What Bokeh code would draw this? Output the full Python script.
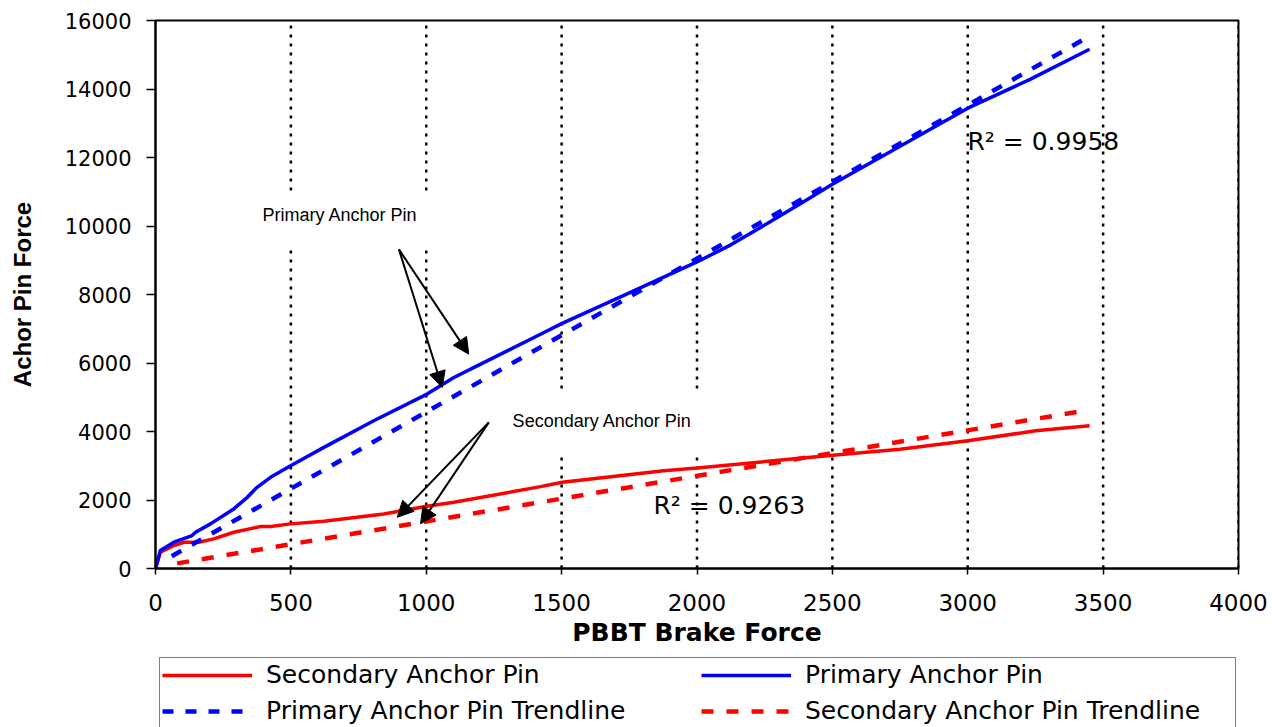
from bokeh.plotting import figure
from bokeh.layouts import column
from bokeh.models import (Range1d, FixedTicker, Legend, LegendItem, Label, Arrow,
                          NormalHead)
from bokeh.embed import file_html
from bokeh.resources import INLINE

# ---- data ----
primary_brake_force = [0, 18, 68, 135, 148, 203, 289, 339, 375, 425, 499, 622, 806, 1003,
                       1102, 1188, 1422, 1500, 1750, 2000, 2125, 2250, 2380, 2500, 2750,
                       3000, 3230, 3450]
primary_pin_force = [0, 525, 767, 962, 1058, 1303, 1740, 2078, 2370, 2661, 3002, 3536, 4314,
                     5092, 5577, 5917, 6841, 7150, 8050, 8950, 9450, 10030, 10640, 11220,
                     12330, 13440, 14280, 15160]

secondary_brake_force = [0, 18, 68, 105, 160, 215, 289, 388, 425, 499, 622, 843, 1003, 1102,
                         1422, 1502, 1877, 2000, 2481, 2750, 3000, 3250, 3450]
secondary_pin_force = [0, 475, 670, 767, 767, 866, 1058, 1224, 1224, 1303, 1379, 1594, 1816,
                       1933, 2390, 2516, 2857, 2935, 3294, 3480, 3730, 4020, 4170]

primary_trend_x = [60, 3440]
primary_trend_y = [360, 15500]
secondary_trend_x = [80, 3440]
secondary_trend_y = [150, 4620]

x_ticks = [0, 500, 1000, 1500, 2000, 2500, 3000, 3500, 4000]
y_ticks = [0, 2000, 4000, 6000, 8000, 10000, 12000, 14000, 16000]
grid_x = [500, 1000, 1500, 2000, 2500, 3000, 3500, 4000]

legend_labels = ["Secondary Anchor Pin", "Primary Anchor Pin",
                 "Primary Anchor Pin Trendline", "Secondary Anchor Pin Trendline"]
r2_primary = "R\u00b2 = 0.9958"
r2_secondary = "R\u00b2 = 0.9263"
note_primary = "Primary Anchor Pin"
note_secondary = "Secondary Anchor Pin"

RED = "#ff0000"
BLUE = "#0000ff"

# ---- main figure ----
p = figure(width=1272, height=655, output_backend="svg", toolbar_location=None,
           x_range=Range1d(0, 4000), y_range=Range1d(0, 16000),
           min_border_left=155, min_border_right=34, min_border_top=20,
           min_border_bottom=87)
p.background_fill_color = "white"
p.border_fill_color = "white"
p.outline_line_color = "black"
p.outline_line_width = 2
p.xgrid.visible = False
p.ygrid.visible = False

# x axis
p.xaxis.ticker = FixedTicker(ticks=x_ticks)
p.xaxis.axis_label = "PBBT Brake Force"
p.xaxis.axis_label_text_font = "DejaVu Sans"
p.xaxis.axis_label_text_font_style = "bold"
p.xaxis.axis_label_text_font_size = "25px"
p.xaxis.axis_label_text_color = "black"
p.xaxis.axis_label_standoff = 4
p.xaxis.major_label_text_font = "DejaVu Sans"
p.xaxis.major_label_text_font_size = "23px"
p.xaxis.major_label_text_color = "black"
p.xaxis.major_label_standoff = 19
p.xaxis.major_tick_in = 3
p.xaxis.major_tick_out = 6
p.xaxis.minor_tick_line_color = None

# y axis
p.yaxis.ticker = FixedTicker(ticks=y_ticks)
p.yaxis.axis_label = "Achor Pin Force"
p.yaxis.axis_label_text_font = "Liberation Sans"
p.yaxis.axis_label_text_font_style = "bold"
p.yaxis.axis_label_text_font_size = "24px"
p.yaxis.axis_label_text_color = "black"
p.yaxis.axis_label_standoff = 26
p.yaxis.major_label_text_font = "DejaVu Sans"
p.yaxis.major_label_text_font_size = "21px"
p.yaxis.major_label_text_color = "black"
p.yaxis.major_label_standoff = 15
p.yaxis.major_tick_in = 0
p.yaxis.major_tick_out = 9
p.yaxis.minor_tick_line_color = None

for ax in (p.xaxis, p.yaxis):
    ax.axis_line_color = "black"
    ax.axis_line_width = 2
    ax.major_tick_line_color = "black"
    ax.major_tick_line_width = 1.5

# dotted vertical grid lines
p.segment(x0=grid_x, y0=[0] * len(grid_x), x1=grid_x, y1=[16000] * len(grid_x),
          line_color="black", line_width=2.5, line_dash="3 6")
# white text boxes interrupting the grid lines
p.quad(left=[460, 1450], right=[1060, 2060], bottom=[9415, 3352], top=[11019, 5190],
       fill_color="white", line_color=None)

# series
p.line(secondary_brake_force, secondary_pin_force, line_color=RED, line_width=3.5)
p.line(primary_brake_force, primary_pin_force, line_color=BLUE, line_width=3.5)
p.line(primary_trend_x, primary_trend_y, line_color=BLUE, line_width=4.5, line_dash="11 12")
p.line(secondary_trend_x, secondary_trend_y, line_color=RED, line_width=4.5, line_dash="12 13")

# annotations
p.add_layout(Label(x=395, y=10320, text=note_primary, text_font="Liberation Sans",
                   text_font_size="18px", text_color="black", text_baseline="alphabetic"))
p.add_layout(Label(x=1319, y=4314, text=note_secondary, text_font="Liberation Sans",
                   text_font_size="18px", text_color="black", text_baseline="alphabetic"))
p.add_layout(Label(x=2999, y=12480, text=r2_primary, text_font="DejaVu Sans",
                   text_font_size="25px", text_color="black", text_baseline="alphabetic"))
p.add_layout(Label(x=1839, y=1836, text=r2_secondary, text_font="DejaVu Sans",
                   text_font_size="25px", text_color="black", text_baseline="alphabetic"))

for (xs, ys, xe, ye) in [(899, 9319, 1157, 6258), (899, 9319, 1059, 5285),
                         (1231, 4265, 893, 1495), (1231, 4265, 979, 1303)]:
    p.add_layout(Arrow(x_start=xs, y_start=ys, x_end=xe, y_end=ye, line_width=2,
                       line_color="black",
                       end=NormalHead(size=16, fill_color="black", line_color="black")))

# ---- legend strip below the chart ----
lg = figure(width=1272, height=72, output_backend="svg", toolbar_location=None,
            x_range=Range1d(0, 1), y_range=Range1d(0, 1),
            x_axis_location=None, y_axis_location=None,
            min_border_left=155, min_border_right=34, min_border_top=0,
            min_border_bottom=0)
lg.outline_line_color = None
lg.xgrid.visible = False
lg.ygrid.visible = False
lg.background_fill_color = "white"
lg.border_fill_color = "white"

# key-only renderers, kept outside the visible range of the strip
off = [-5, -4]
k_sec = lg.line(off, off, line_color=RED, line_width=3.5)
k_pri = lg.line(off, off, line_color=BLUE, line_width=3.5)
k_pri_t = lg.line(off, off, line_color=BLUE, line_width=4.5, line_dash="11 12")
k_sec_t = lg.line(off, off, line_color=RED, line_width=4.5, line_dash="12 13")

legend = Legend(items=[LegendItem(label=legend_labels[0], renderers=[k_sec]),
                       LegendItem(label=legend_labels[1], renderers=[k_pri]),
                       LegendItem(label=legend_labels[2], renderers=[k_pri_t]),
                       LegendItem(label=legend_labels[3], renderers=[k_sec_t])],
                orientation="horizontal", ncols=2,
                location=(4, -1),
                label_text_font="DejaVu Sans", label_text_font_size="25px",
                label_text_color="black",
                glyph_width=90, glyph_height=28, label_standoff=14, label_width=428,
                spacing=7, padding=2, margin=0,
                border_line_color="black", border_line_width=1.5,
                background_fill_color="white", background_fill_alpha=1)
lg.add_layout(legend, "center")

layout = column(p, lg, spacing=0)
open("out.html", "w").write(file_html(layout, INLINE))
